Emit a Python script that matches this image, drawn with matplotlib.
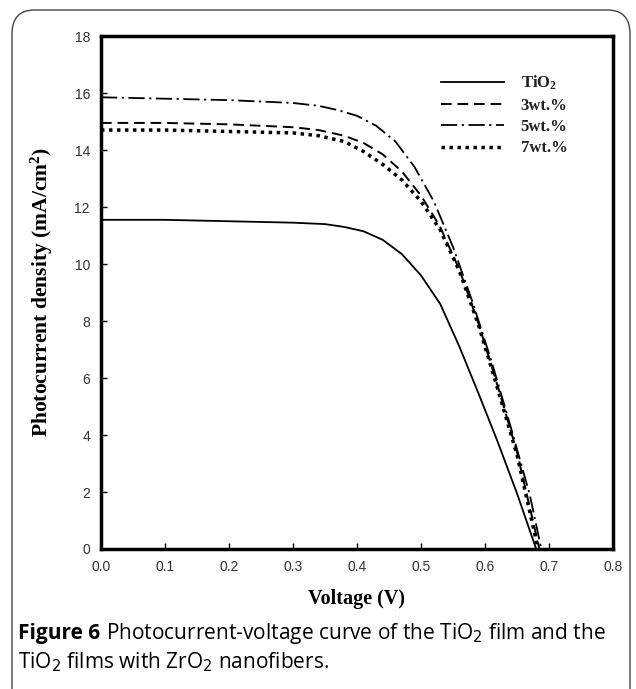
import matplotlib
matplotlib.use("Agg")
import matplotlib.pyplot as plt
from matplotlib.patches import FancyBboxPatch

plt.rcParams["mathtext.fontset"] = "custom"
plt.rcParams["mathtext.rm"] = "Liberation Serif:bold"
plt.rcParams["mathtext.it"] = "Liberation Serif:bold"
plt.rcParams["mathtext.bf"] = "Liberation Serif:bold"

# ---- data ----
v_tio2 = [0.0, 0.1, 0.2, 0.3, 0.35, 0.38, 0.41, 0.44, 0.47, 0.50, 0.53, 0.56, 0.59, 0.62, 0.65, 0.68]
j_tio2 = [11.55, 11.55, 11.5, 11.45, 11.4, 11.3, 11.15, 10.85, 10.35, 9.6, 8.6, 7.1, 5.45, 3.75, 1.95, 0.0]

v_3wt = [0.0, 0.1, 0.2, 0.3, 0.34, 0.38, 0.41, 0.44, 0.47, 0.50, 0.53, 0.56, 0.59, 0.62, 0.65, 0.685]
j_3wt = [14.95, 14.95, 14.9, 14.8, 14.7, 14.5, 14.25, 13.85, 13.25, 12.4, 11.3, 9.8, 7.9, 5.7, 3.4, 0.0]

v_5wt = [0.0, 0.1, 0.2, 0.3, 0.34, 0.37, 0.40, 0.43, 0.46, 0.49, 0.52, 0.55, 0.58, 0.61, 0.64, 0.67, 0.688]
j_5wt = [15.85, 15.8, 15.75, 15.65, 15.55, 15.4, 15.2, 14.85, 14.3, 13.4, 12.2, 10.6, 8.7, 6.6, 4.3, 1.9, 0.0]

v_7wt = [0.0, 0.1, 0.2, 0.3, 0.34, 0.38, 0.41, 0.44, 0.47, 0.50, 0.53, 0.56, 0.59, 0.62, 0.65, 0.683]
j_7wt = [14.7, 14.7, 14.65, 14.6, 14.5, 14.3, 13.95, 13.5, 12.95, 12.2, 11.2, 9.75, 7.85, 5.6, 3.3, 0.0]

series_labels = ["TiO$_2$", "3wt.%", "5wt.%", "7wt.%"]
x_ticks = [0.0, 0.1, 0.2, 0.3, 0.4, 0.5, 0.6, 0.7, 0.8]
y_ticks = [0, 2, 4, 6, 8, 10, 12, 14, 16, 18]

W, H = 636, 689
fig = plt.figure(figsize=(W / 100, H / 100), dpi=100)

# rounded frame around figure + caption
frame = FancyBboxPatch((12 / W, -30 / H), 618 / W, (H - 10 + 30) / H,
                       boxstyle="round,pad=0,rounding_size=0.035",
                       transform=fig.transFigure, fill=False,
                       edgecolor="#444444", linewidth=1.0, clip_on=False)
fig.patches.append(frame)

ax = fig.add_axes([101 / W, 1 - 549 / H, 512 / W, 513 / H])

styles = [
    dict(linestyle="-", linewidth=1.3),
    dict(linestyle=(0, (5.5, 3)), linewidth=1.4),
    dict(linestyle=(0, (9, 2.5, 1.2, 2.5)), linewidth=1.3),
    dict(linestyle=(0, (1.0, 1.3)), linewidth=2.5, dash_capstyle="butt"),
]
data = [(v_tio2, j_tio2), (v_3wt, j_3wt), (v_5wt, j_5wt), (v_7wt, j_7wt)]

for (v, j), st, lab in zip(data, styles, series_labels):
    ax.plot(v, j, color="black", label=lab, **st)

ax.set_xlim(0, 0.8)
ax.set_ylim(0, 18)
ax.set_xticks(x_ticks)
ax.set_yticks(y_ticks)
ax.set_xticklabels([f"{t:.1f}" for t in x_ticks], fontfamily="Liberation Sans", fontsize=10, color="#333333")
ax.set_yticklabels([str(t) for t in y_ticks], fontfamily="Liberation Sans", fontsize=10, color="#333333")
ax.tick_params(direction="in", length=4, width=1, pad=8)
for s in ax.spines.values():
    s.set_linewidth(2.5)

ax.set_xlabel("Voltage (V)", fontfamily="Liberation Serif", fontweight="bold", fontsize=14.5, labelpad=11)
ax.set_ylabel("Photocurrent density (mA/cm$^2$)", fontfamily="Liberation Serif", fontweight="bold",
              fontsize=15.5, labelpad=14)

leg = ax.legend(loc="upper right", bbox_to_anchor=(0.94, 0.955), frameon=False,
                prop=dict(family="Liberation Serif", weight="bold", size=12),
                handlelength=3.8, handletextpad=1.0, labelspacing=0.32)
for t in leg.get_texts():
    t.set_color("#222222")

# caption
cap_fs = 15
y1, y2 = 633, 662
t1 = fig.text(18 / W, 1 - y1 / H, "Figure 6", fontfamily="Open Sans", fontweight="bold", fontsize=cap_fs,
              va="center", ha="left")
fig.canvas.draw()
bb = t1.get_window_extent()
fig.text((bb.x1 + 6) / W, 1 - y1 / H, "Photocurrent-voltage curve of the TiO$_2$ film and the",
         fontfamily="Open Sans", fontsize=cap_fs, va="center", ha="left", math_fontfamily="dejavusans")
fig.text(18 / W, 1 - y2 / H, "TiO$_2$ films with ZrO$_2$ nanofibers.",
         fontfamily="Open Sans", fontsize=cap_fs, va="center", ha="left", math_fontfamily="dejavusans")

fig.savefig("out.png", dpi=100)
